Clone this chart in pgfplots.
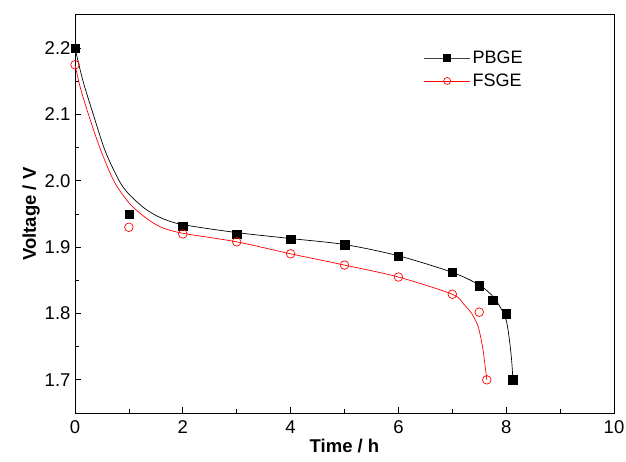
\documentclass[border=0pt]{standalone}
\usepackage{fontspec}
\setmainfont{Liberation Sans}
\usepackage{pgfplots}
\pgfplotsset{compat=1.18}

\begin{document}
\begin{tikzpicture}
\begin{axis}[
    scale only axis,
    width=539pt, height=398pt,
    xmin=0, xmax=10,
    ymin=1.65, ymax=2.25,
    xtick={0,2,...,10},
    ytick={1.7,1.8,...,2.21},
    minor x tick num=1,
    minor y tick num=1,
    tick pos=left,
    tick align=inside,
    major tick length=6pt,
    minor tick length=4pt,
    axis line style={line width=1pt},
    every tick/.style={line width=0.8pt, black},
    /pgf/number format/assume math mode=true,
    yticklabel style={/pgf/number format/fixed, /pgf/number format/fixed zerofill, /pgf/number format/precision=1},
    ticklabel style={font=\fontsize{18.5}{21}\selectfont},
    xticklabel style={yshift=-4pt},
    yticklabel style={xshift=-1pt},
    xlabel={\textbf{Time / h}},
    ylabel={\textbf{Voltage / V}},
    label style={font=\fontsize{18.5}{21}\selectfont},
    xlabel style={yshift=1pt},
    ylabel style={yshift=-2pt},
    clip=false,
    legend style={draw=none, fill=none, at={(0.645,0.918)}, anchor=north west,
        font=\fontsize{18}{20}\selectfont, row sep=5pt, inner sep=1pt},
    legend cell align=left,
    legend image code/.code={
        \draw[mark repeat=2, mark phase=2, #1] plot coordinates {(0pt,0pt) (23pt,0pt) (46pt,0pt)};
    },
]
\coordinate (sw) at (rel axis cs:0,0);
\coordinate (ne) at (rel axis cs:1,1);

% fitted curves
\addplot[forget plot, black, line width=0.7pt, smooth, tension=0.5] coordinates {
(0,2.2) (0.15,2.15) (0.34,2.1) (0.56,2.045) (0.82,2.0) (1.0,1.98) (1.3,1.958)
(1.6,1.944) (2,1.934) (3,1.922) (4,1.913) (5,1.904) (6,1.887) (7,1.862)
(7.5,1.843) (7.75,1.826) (7.9,1.808) (8.0,1.79) (8.06,1.76) (8.1,1.73) (8.125,1.7)};
\addplot[forget plot, red, line width=0.7pt, smooth, tension=0.5] coordinates {
(0,2.175) (0.1,2.14) (0.25,2.1) (0.46,2.05) (0.72,2.0) (1.0,1.967) (1.3,1.945)
(1.6,1.93) (2,1.921) (3,1.908) (4,1.89) (5,1.873) (6,1.855) (7,1.829)
(7.2,1.815) (7.36,1.8) (7.48,1.78) (7.56,1.75) (7.61,1.72) (7.64,1.7)};

% measured points
\addplot[forget plot, only marks, mark=square*, mark size=4.2pt, black] coordinates {
(0,2.2) (1,1.95) (2,1.932) (3,1.92) (4,1.912) (5,1.904) (6,1.886)
(7,1.862) (7.5,1.842) (7.75,1.82) (8,1.8) (8.12,1.7)};
\addplot[forget plot, only marks, mark=o, mark size=4.3pt, red, mark options={fill=white, line width=0.7pt}] coordinates {
(0,2.175) (1,1.93) (2,1.92) (3,1.908) (4,1.89) (5,1.873) (6,1.855)
(7,1.829) (7.5,1.802) (7.64,1.7)};

\addlegendimage{black!75, line width=0.7pt, mark=square*, mark size=3.5pt, mark options={black}}
\addlegendentry{PBGE}
\addlegendimage{red, line width=0.7pt, mark=o, mark size=3.5pt, mark options={fill=white}}
\addlegendentry{FSGE}
\end{axis}
\pgfresetboundingbox
\path[use as bounding box] ([shift={(-75pt,-48pt)}]sw) rectangle ([shift={(12pt,15pt)}]ne);
\end{tikzpicture}
\end{document}
